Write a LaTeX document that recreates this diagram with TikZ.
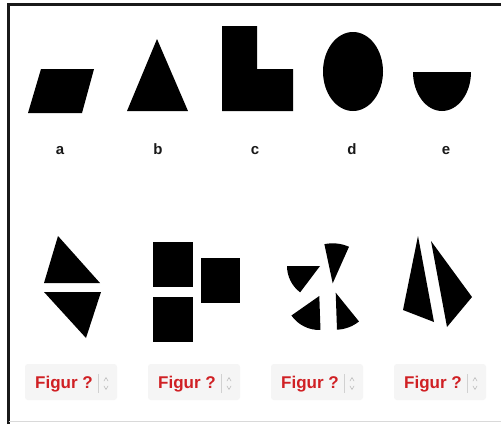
\documentclass[tikz,border=0pt]{standalone}
\usepackage{fontspec}
\setmainfont{Liberation Sans}
\definecolor{figred}{RGB}{208,32,36}
\definecolor{boxgray}{RGB}{245,245,245}
\definecolor{spingray}{RGB}{190,190,190}
\tikzset{
  shp/.style={fill=black, draw=none},
  lbl/.style={font=\bfseries\fontsize{15}{17}\selectfont, text=black!90, anchor=base, inner sep=0pt},
  selbox/.style={fill=boxgray, draw=none, rounded corners=3pt},
  seltext/.style={font=\bfseries\fontsize{17}{19}\selectfont, text=figred, anchor=base west, inner sep=0pt},
  sep/.style={draw=spingray!70, line width=0.6pt},
  spin/.style={draw=spingray, line width=0.6pt, line cap=round, line join=round}
}
\newcommand{\selector}[2]{%
  \fill[selbox] (#1,364) rectangle ++(92,36);
  \node[seltext] (#2) at (#1+10,388.5) {Figur ?};
  \draw[sep] (#1+73,374) -- (#1+73,393);
  \draw[spin] (#1+79,381) -- (#1+81,377.5) -- (#1+83,381);
  \draw[spin] (#1+79,386) -- (#1+81,389.5) -- (#1+83,386);
}
\begin{document}
\begin{tikzpicture}[x=1pt,y=-1pt]
\useasboundingbox (0,0) rectangle (501,424);
\fill[white] (0,0) rectangle (501,424);
% frame
\draw[line width=2.4pt, black!90] (8.5,424) -- (8.5,4.5) -- (501,4.5);
\draw[line width=0.8pt, black!15] (8.5,421.5) -- (501,421.5);
% top row shapes
\fill[shp] (28,113) -- (82,113) -- (94,69) -- (41,69) -- cycle;
\fill[shp] (157,39) -- (127,111) -- (188,111) -- cycle;
\fill[shp] (222,26) -- (257,26) -- (257,69) -- (293,69) -- (293,111) -- (222,111) -- cycle;
\fill[shp] (353,71.5) ellipse[x radius=30, y radius=39.5];
\fill[shp] (413,72) -- (471,72) arc[start angle=0, end angle=180, x radius=29, y radius=39] -- cycle;
% labels
\node[lbl] (la) at (60,154) {a};
\node[lbl] (lb) at (158,154) {b};
\node[lbl] (lc) at (255,154) {c};
\node[lbl] (ld) at (352,154) {d};
\node[lbl] (le) at (446,154) {e};
% figure 1
\fill[shp] (58,236) -- (44,283) -- (100,283) -- cycle;
\fill[shp] (44,292) -- (101,292) -- (86,338) -- cycle;
% figure 2
\fill[shp] (153,242) rectangle (193,287);
\fill[shp] (153,297) rectangle (193,342);
\fill[shp] (201,258) rectangle (240,303);
% figure 3 (four sectors)
\fill[shp] (332.7,283.3) -- (324.38,244.18) .. controls (332.65,242.42) and (341.25,243.32) .. (348.97,246.76) -- cycle;
\fill[shp] (320,266) -- (287,266) .. controls (287,276.36) and (291.87,286.12) .. (300.14,292.35) -- cycle;
\fill[shp] (319.3,296) -- (291.45,315.5) .. controls (298.06,324.94) and (308.98,330.38) .. (320.49,329.98) -- cycle;
\fill[shp] (335.7,292.7) -- (358.98,321.45) .. controls (352.73,326.51) and (345.02,329.40) .. (336.99,329.68) -- cycle;
% figure 4
\fill[shp] (418,236) -- (403,310) -- (434,322) -- cycle;
\fill[shp] (431,241) -- (472,297) -- (447,327) -- cycle;
% selectors
\selector{25}{s1}
\selector{148}{s2}
\selector{271}{s3}
\selector{394}{s4}
\end{tikzpicture}
\end{document}
